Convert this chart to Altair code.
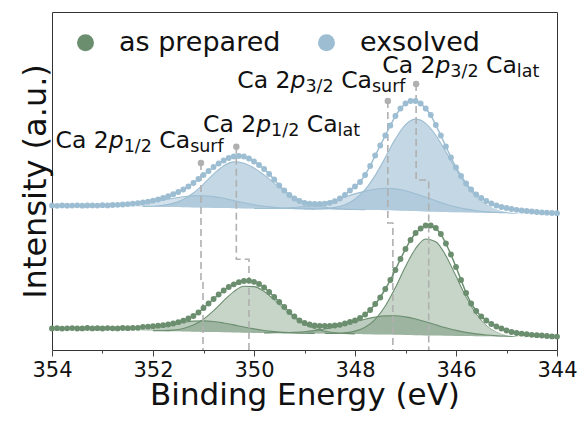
import altair as alt
import pandas as pd

FONT = "DejaVu Sans"
GREEN = "#6b8e6f"
BLUE = "#9cbdd2"
GUIDE = "#b0b0b0"

samples = ["as prepared", "exsolved"]

# measured spectra, 0.1 eV steps from 354.0 eV down to 344.0 eV
energy_data = [round(354.0 - 0.1 * i, 1) for i in range(101)]
green_counts = [
    21.5, 21.8, 21.4, 21.7, 21.9, 21.5, 21.6, 22.0, 21.6, 21.8,
    21.5, 21.9, 21.7, 21.6, 22.0, 21.8, 22.1, 22.2, 23.2, 23.4,
    23.8, 24.3, 24.8, 25.5, 26.5, 27.8, 29.3, 31.5, 34.0, 37.5,
    42.0, 46.5, 51.0, 55.5, 59.5, 63.0, 65.7, 67.8, 69.0, 69.3,
    68.2, 66.0, 62.5, 58.0, 53.0, 48.0, 43.0, 38.0, 33.5, 29.5,
    27.0, 25.5, 24.5, 24.0, 24.0, 24.2, 24.5, 25.2, 26.5, 28.0,
    29.5, 32.0, 35.5, 40.0, 46.0, 52.5, 61.0, 70.0, 80.0, 91.0,
    101.0, 110.0, 117.0, 121.5, 124.5, 124.5, 122.0, 116.0, 106.5, 95.5,
    83.0, 70.0, 57.0, 46.5, 39.0, 33.5, 29.5, 26.0, 23.5, 21.5,
    19.5, 18.0, 17.0, 16.3, 15.8, 15.2, 14.8, 14.5, 14.0, 13.6,
    13.4]
blue_counts = [
    144.5, 144.2, 144.6, 144.3, 144.4, 144.7, 144.3, 144.5, 144.6, 144.4,
    144.8, 144.6, 145.0, 145.2, 145.5, 145.9, 146.4, 146.9, 147.5, 148.3,
    149.3, 150.5, 152.0, 153.8, 155.8, 158.0, 160.5, 163.5, 167.0, 171.0,
    175.0, 179.0, 183.0, 186.5, 189.5, 192.0, 193.5, 194.0, 193.5, 191.5,
    188.5, 185.0, 181.0, 176.0, 170.5, 164.5, 159.5, 155.0, 151.5, 149.0,
    147.2, 146.3, 146.0, 146.0, 146.3, 147.2, 148.8, 151.5, 155.0, 159.5,
    163.5, 168.0, 175.0, 184.0, 194.5, 204.5, 214.5, 224.5, 234.0, 241.5,
    246.5, 249.0, 249.0, 246.5, 241.5, 235.0, 225.0, 214.5, 203.5, 192.5,
    182.5, 174.0, 166.5, 160.5, 155.5, 152.0, 149.0, 146.5, 144.5, 143.0,
    142.0, 141.0, 140.2, 139.6, 139.0, 138.5, 138.0, 137.6, 137.3, 137.0,
    136.8]

# fitted curves, 0.2 eV steps from 354.0 eV down to 344.0 eV
energy_fit = [round(354.0 - 0.2 * i, 1) for i in range(51)]
green_bg = [
    21.5, 21.4, 21.3, 21.2, 21.0, 20.8, 20.5, 20.2, 19.9, 19.6,
    19.3, 19.0, 18.7, 18.5, 18.3, 18.1, 17.9, 17.7, 17.5, 17.3,
    17.1, 17.0, 16.9, 16.8, 16.7, 16.6, 16.5, 16.4, 16.3, 16.2,
    16.0, 15.8, 15.6, 15.4, 15.2, 15.0, 14.8, 14.6, 14.4, 14.2,
    14.0, 13.9, 13.8, 13.7, 13.6, 13.5, 13.4, 13.3, 13.3, 13.2,
    13.2]
green_p12_surf = [
    0, 0, 0, 0, 0.1, 0.2, 0.4, 0.8, 1.5, 2.5,
    4.0, 5.7, 7.6, 9.3, 10.6, 11.0, 10.6, 9.3, 7.6, 5.7,
    4.0, 2.5, 1.5, 0.8, 0.4, 0.2, 0.1, 0, 0, 0,
    0, 0, 0, 0, 0, 0, 0, 0, 0, 0,
    0, 0, 0, 0, 0, 0, 0, 0, 0, 0,
    0]
green_p12_lat = [
    0, 0, 0, 0, 0, 0, 0, 0, 0, 0,
    0.1, 0.4, 1.2, 3.0, 6.6, 12.7, 21.4, 31.6, 40.9, 46.4,
    46.3, 41.5, 33.5, 24.4, 16.0, 9.5, 5.0, 2.4, 1.0, 0.4,
    0.1, 0, 0, 0, 0, 0, 0, 0, 0, 0,
    0, 0, 0, 0, 0, 0, 0, 0, 0, 0,
    0]
green_p32_surf = [
    0, 0, 0, 0, 0, 0, 0, 0, 0, 0,
    0, 0, 0, 0, 0, 0, 0, 0, 0, 0,
    0, 0.1, 0.3, 0.5, 1.0, 1.7, 2.9, 4.6, 6.8, 9.4,
    12.3, 15.0, 17.3, 18.7, 19.0, 18.1, 16.2, 13.7, 10.8, 8.0,
    5.6, 3.7, 2.3, 1.3, 0.7, 0.4, 0.2, 0.1, 0, 0,
    0]
green_p32_lat = [
    0, 0, 0, 0, 0, 0, 0, 0, 0, 0,
    0, 0, 0, 0, 0, 0, 0, 0, 0, 0,
    0, 0, 0, 0, 0, 0, 0, 0.1, 0.3, 1.0,
    2.9, 7.0, 15.1, 28.6, 47.2, 68.4, 86.7, 96.4, 93.9, 80.1,
    59.9, 39.3, 22.5, 11.3, 5.0, 1.9, 0.7, 0.2, 0, 0,
    0]
blue_bg = [
    144.3, 144.2, 144.1, 144.0, 143.9, 143.8, 143.7, 143.6, 143.5, 143.4,
    143.3, 143.1, 142.9, 142.7, 142.5, 142.3, 142.1, 141.9, 141.7, 141.5,
    141.4, 141.3, 141.2, 141.1, 141.0, 140.9, 140.8, 140.7, 140.6, 140.5,
    140.3, 140.1, 139.9, 139.7, 139.5, 139.2, 138.9, 138.6, 138.3, 138.0,
    137.7, 137.5, 137.3, 137.1, 137.0, 136.9, 136.8, 136.7, 136.6, 136.6,
    136.5]
blue_p12_surf = [
    0, 0, 0, 0.1, 0.1, 0.3, 0.5, 1.0, 1.9, 3.1,
    4.8, 6.8, 8.8, 10.6, 11.7, 12.0, 11.3, 9.8, 7.8, 5.7,
    3.9, 2.4, 1.4, 0.7, 0.4, 0.2, 0.1, 0, 0, 0,
    0, 0, 0, 0, 0, 0, 0, 0, 0, 0,
    0, 0, 0, 0, 0, 0, 0, 0, 0, 0,
    0]
blue_p12_lat = [
    0, 0, 0, 0, 0, 0, 0, 0, 0, 0.2,
    0.5, 1.5, 3.7, 7.8, 14.5, 23.6, 33.8, 42.3, 46.4, 45.3,
    40.7, 33.8, 25.8, 18.2, 11.8, 7.0, 3.9, 2.0, 0.9, 0.4,
    0.2, 0.1, 0, 0, 0, 0, 0, 0, 0, 0,
    0, 0, 0, 0, 0, 0, 0, 0, 0, 0,
    0]
blue_p32_surf = [
    0, 0, 0, 0, 0, 0, 0, 0, 0, 0,
    0, 0, 0, 0, 0, 0, 0, 0, 0, 0,
    0.1, 0.2, 0.4, 0.8, 1.5, 2.6, 4.2, 6.5, 9.3, 12.5,
    15.8, 18.8, 20.9, 22.0, 21.6, 20.0, 17.4, 14.2, 10.9, 7.8,
    5.3, 3.4, 2.0, 1.1, 0.6, 0.3, 0.1, 0.1, 0, 0,
    0]
blue_p32_lat = [
    0, 0, 0, 0, 0, 0, 0, 0, 0, 0,
    0, 0, 0, 0, 0, 0, 0, 0, 0, 0,
    0, 0, 0, 0, 0, 0.1, 0.2, 0.7, 2.0, 4.8,
    10.4, 20.2, 34.7, 52.9, 71.6, 86.2, 92.0, 88.0, 76.4, 60.2,
    43.0, 27.8, 16.4, 8.7, 4.2, 1.8, 0.7, 0.3, 0.1, 0,
    0]

# peak guides: blue position, green position, marker height, jog height
blue_peak_E = [351.05, 350.35, 347.35, 346.79]
green_peak_E = [351.01, 350.10, 347.25, 346.54]
marker_I = [187.0, 203.3, 249.0, 266.0]
jog_I = [68.3, 90.7, 127.0, 170.0]

# annotation labels
ann_E = [353.93, 351.01, 350.33, 347.46]
ann_I = [202.0, 218.3, 262.5, 277.0]
ann_level = ["1/2", "1/2", "3/2", "3/2"]
ann_site = ["surf", "lat", "surf", "lat"]

# ---------------- tables ----------------
pts = pd.DataFrame({
    "E": energy_data * 2,
    "I": green_counts + blue_counts,
    "sample": [samples[0]] * 101 + [samples[1]] * 101,
})


def comp_table(bg, comp):
    df = pd.DataFrame({"E": energy_fit,
                       "I0": bg,
                       "I": [b + c for b, c in zip(bg, comp)],
                       "c": comp})
    return df[df["c"] > 0]


def env_table(bg, *comps):
    tot = [b + sum(v) for b, v in zip(bg, zip(*comps))]
    return pd.DataFrame({"E": energy_fit, "I": tot})


guide_rows = []
for gid, (eb, eg, im, ij) in enumerate(zip(blue_peak_E, green_peak_E, marker_I, jog_I)):
    guide_rows += [
        {"id": gid, "seq": 0, "E": eb, "I": im},
        {"id": gid, "seq": 1, "E": eb, "I": ij},
        {"id": gid, "seq": 2, "E": eg, "I": ij},
        {"id": gid, "seq": 3, "E": eg, "I": 0.0},
    ]
guides = pd.DataFrame(guide_rows)
markers = pd.DataFrame({"E": blue_peak_E, "I": marker_I})
ann = pd.DataFrame({"E": ann_E, "I": ann_I, "level": ann_level, "site": ann_site})

# ---------------- encodings ----------------
x_enc = alt.X(
    "E:Q",
    scale=alt.Scale(domain=[344, 354], reverse=True, nice=False, zero=False),
    axis=alt.Axis(
        title="Binding Energy (eV)",
        values=list(range(344, 355)),
        labelExpr="datum.value % 2 == 0 ? datum.label : ''",
        labelOverlap=False, labelFlush=False,
        labelFont=FONT, labelFontSize=21, labelColor="#111111", labelPadding=3,
        tickSize={"condition": {"test": "datum.value % 2 != 0", "value": 3}, "value": 6},
        tickColor="#444444", tickWidth=1,
        domain=False, grid=False,
        titleFont=FONT, titleFontSize=31, titleFontWeight="normal", titleColor="#111111",
        titleY=54, titleBaseline="alphabetic",
    ),
)
y_enc = alt.Y(
    "I:Q",
    scale=alt.Scale(domain=[0, 338], nice=False, zero=False),
    axis=alt.Axis(
        title="Intensity (a.u.)", labels=False, ticks=False, domain=False, grid=False,
        titleFont=FONT, titleFontSize=32, titleFontWeight="normal", titleColor="#111111",
        titleX=-6.5, titleBaseline="alphabetic",
    ),
)


def area(df, color, op):
    return alt.Chart(df).mark_area(
        color=color, fillOpacity=op, interpolate="monotone",
        line={"color": color, "strokeWidth": 1.1},
    ).encode(x=x_enc, y=y_enc, y2=alt.Y2("I0"))


layers = [
    area(comp_table(blue_bg, blue_p12_lat), BLUE, 0.6),
    area(comp_table(blue_bg, blue_p32_lat), BLUE, 0.6),
    area(comp_table(blue_bg, blue_p12_surf), BLUE, 0.45),
    area(comp_table(blue_bg, blue_p32_surf), BLUE, 0.45),
    area(comp_table(green_bg, green_p12_lat), GREEN, 0.38),
    area(comp_table(green_bg, green_p32_lat), GREEN, 0.38),
    area(comp_table(green_bg, green_p12_surf), GREEN, 0.45),
    area(comp_table(green_bg, green_p32_surf), GREEN, 0.45),
]

for bg, comps in [(blue_bg, (blue_p12_lat, blue_p12_surf, blue_p32_lat, blue_p32_surf)),
                  (green_bg, (green_p12_lat, green_p12_surf, green_p32_lat, green_p32_surf))]:
    layers.append(
        alt.Chart(env_table(bg, *comps)).mark_line(
            color="white", strokeWidth=2, interpolate="monotone"
        ).encode(x=x_enc, y=y_enc)
    )

layers.append(
    alt.Chart(guides).mark_line(color=GUIDE, strokeDash=[7, 4], strokeWidth=1.6).encode(
        x=x_enc, y=y_enc, detail="id:N", order="seq:Q")
)
layers.append(
    alt.Chart(markers).mark_circle(color=GUIDE, size=42, opacity=1).encode(x=x_enc, y=y_enc)
)

for s, col in zip(samples, [GREEN, BLUE]):
    layers.append(
        alt.Chart(pts[pts["sample"] == s]).mark_line(color=col, strokeWidth=1.5).encode(
            x=x_enc, y=y_enc)
    )

layers.append(
    alt.Chart(pts).mark_circle(size=34, opacity=1).encode(
        x=x_enc, y=y_enc,
        color=alt.Color(
            "sample:N",
            scale=alt.Scale(domain=samples, range=[GREEN, BLUE]),
            legend=alt.Legend(
                title=None, orient="none", legendX=20, legendY=17, direction="horizontal",
                labelFont=FONT, labelFontSize=27, labelColor="#111111", labelLimit=400,
                symbolType="circle", symbolSize=289, symbolStrokeWidth=0, symbolOpacity=1,
                labelOffset=20, columnPadding=32, padding=0,
            ),
        ),
    )
)

# rich-text annotations built from pieces
MAIN = 23.5
SUB = 17.5
pieces = [
    ({"text": "Ca 2"}, 0, 0, MAIN, "normal", None),
    ({"text": "p"}, 53.2, 0, MAIN, "italic", None),
    ({}, 68.1, 4, SUB, "normal", "level"),
    ({"text": "Ca"}, 103.8, 0, MAIN, "normal", None),
    ({}, 134.6, 4, SUB, "normal", "site"),
]
for kw, dx, dy, fs, style, field in pieces:
    enc = {"x": x_enc, "y": y_enc}
    if field:
        enc["text"] = alt.Text(f"{field}:N")
    layers.append(
        alt.Chart(ann).mark_text(
            align="left", baseline="alphabetic", font=FONT, fontSize=fs,
            fontStyle=style, dx=dx, dy=dy, color="#111111", **kw,
        ).encode(**enc)
    )

chart = alt.layer(*layers).properties(
    width=505, height=338,
    padding={"left": 44, "top": 4, "right": 21, "bottom": 70},
    autosize=alt.AutoSizeParams(type="none"),
).configure_view(stroke="#333333", strokeWidth=1)

chart.save("out.html", embed_options={"renderer": "svg", "actions": False})
